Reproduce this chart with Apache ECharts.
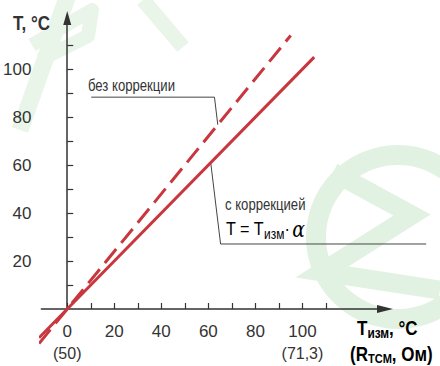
<!DOCTYPE html>
<html>
<head>
<meta charset="utf-8">
<script src="https://cdn.jsdelivr.net/npm/echarts@6/dist/echarts.min.js"></script>
<style>
  html, body { margin: 0; padding: 0; background: #fff; }
  #chart { width: 440px; height: 366px; }
</style>
</head>
<body>
<div id="chart"></div>
<script>
// axis ticks and labels
const xTicks = [0, 10, 20, 30, 40, 50, 60, 70, 80, 90, 100, 110]
const xLabels = [0, 20, 40, 60, 80, 100]
const xSubValues = [0, 100]
const xSubLabels = ['(50)', '(71,3)']
const yTicks = [10, 20, 30, 40, 50, 60, 70, 80, 90, 100, 110]
const yLabels = [20, 40, 60, 80, 100]

// lines: [T изм, T]
const withoutCorrection = [[-12, -14.4], [95, 114]]
const withCorrection = [[-12, -12], [105, 105]]

// callout leaders (data coords)
const leaderWithout = [[10.2, 88.3], [62.6, 88.3], [64, 76.8]]
const leaderWith = [[61, 61], [65.2, 27.1], [152.6, 27.1]]

const FONT = '"Liberation Sans", Arial, sans-serif'
const RED = '#c8363e'
const INK = '#333'
const WM = '#e2f2e2'

const chart = echarts.init(document.getElementById('chart'), null, { renderer: 'svg' })

// narrow text: a condensed look is made with scaleX
function label(x, y, text, size, bold, sx) {
  return {
    type: 'text', x: x, y: y, scaleX: sx || 0.82,
    style: { text: text, font: (bold ? 'bold ' : '') + size + 'px ' + FONT, fill: INK, align: 'left', verticalAlign: 'middle' }
  }
}

function wm(points, width) {
  return { type: 'polyline', z: -10, shape: { points: points }, style: { stroke: '#e9f5e9', lineWidth: width, fill: null, lineJoin: 'round' } }
}

const option = {
  animation: false,
  textStyle: { fontFamily: FONT },
  grid: { left: 36.5, right: 55, top: 18, bottom: 57 },
  xAxis: {
    type: 'value',
    min: -11,
    max: 135.1,
    splitLine: { show: false },
    axisLine: {
      onZero: true,
      lineStyle: { color: INK, width: 1.5 },
      symbol: ['none', 'triangle'],
      symbolSize: [8, 16]
    },
    axisTick: { customValues: xTicks, inside: true, length: 6, lineStyle: { color: INK, width: 1.2 } },
    axisLabel: {
      customValues: xLabels,
      margin: 11,
      color: INK,
      fontSize: 17,
      fontFamily: FONT,
      lineHeight: 22,
      formatter: v => {
        const i = xSubValues.indexOf(v)
        return i >= 0 ? v + '\n{sub|' + xSubLabels[i] + '}' : String(v)
      },
      rich: { sub: { fontSize: 16, fontFamily: FONT, color: INK, lineHeight: 22 } }
    }
  },
  yAxis: {
    type: 'value',
    min: 0,
    max: 121.3,
    splitLine: { show: false },
    axisLine: {
      onZero: true,
      lineStyle: { color: INK, width: 1.5 },
      symbol: ['none', 'triangle'],
      symbolSize: [8, 14]
    },
    axisTick: { customValues: yTicks, inside: true, length: 6, lineStyle: { color: INK, width: 1.2 } },
    axisLabel: { customValues: yLabels, margin: 10, color: INK, fontSize: 17, fontFamily: FONT }
  },
  series: [
    {
      name: 'без коррекции',
      type: 'line',
      clip: false,
      symbol: 'none',
      data: withoutCorrection,
      lineStyle: { color: RED, width: 3, type: [18, 8] }
    },
    {
      name: 'с коррекцией',
      type: 'line',
      clip: false,
      symbol: 'none',
      data: withCorrection,
      lineStyle: { color: RED, width: 3 }
    }
  ]
}

chart.setOption(option)

// leaders go past the grid, so they are drawn as graphics placed through the axes
const toPx = pts => pts.map(p => chart.convertToPixel({ gridIndex: 0 }, p))

chart.setOption({
  graphic: [
    // faint logo watermark
    { type: 'ring', z: -10, shape: { cx: 398, cy: 237, r: 92, r0: 72 }, style: { fill: WM } },
    { type: 'polyline', z: -10, shape: { points: [[333, 172], [412, 215], [322, 272], [440, 290]] },
      style: { stroke: WM, lineWidth: 19, fill: null, lineJoin: 'miter' } },
    wm([[68, -5], [20, 130]], 17),
    wm([[32, 45], [92, 10], [88, 36], [40, 60]], 14),
    wm([[143, 0], [183, 47]], 15),
    { type: 'polyline', shape: { points: toPx(leaderWithout) }, style: { stroke: '#444', lineWidth: 1, fill: null } },
    { type: 'polyline', shape: { points: toPx(leaderWith) }, style: { stroke: '#444', lineWidth: 1, fill: null } },
    label(13, 23, 'T, °C', 20, true, 0.85),
    label(88, 86, 'без коррекции', 16, false),
    label(225, 205, 'с коррекцией', 16, false),
    {
      type: 'text', x: 226, y: 229, scaleX: 0.85,
      style: {
        text: '{m|T = T}{s|изм}{m|·}{a|α}',
        align: 'left', verticalAlign: 'middle',
        rich: {
          m: { fontSize: 19, fontFamily: FONT, color: INK },
          s: { fontSize: 14, fontFamily: FONT, color: INK, padding: [11, 0, 0, 0] },
          a: { fontSize: 22, fontFamily: 'DejaVu Serif', fontStyle: 'italic', color: INK, padding: [0, 0, 0, 3] }
        }
      }
    },
    {
      type: 'text', x: 357, y: 328, scaleX: 0.85,
      style: {
        text: '{m|T}{s|изм}{m|, °C}',
        align: 'left', verticalAlign: 'middle',
        rich: {
          m: { fontSize: 20, fontWeight: 'bold', fontFamily: FONT, color: INK },
          s: { fontSize: 14, fontWeight: 'bold', fontFamily: FONT, color: INK, padding: [10, 0, 0, 0] }
        }
      }
    },
    {
      type: 'text', x: 350, y: 354, scaleX: 0.85,
      style: {
        text: '{m|(R}{s|TCM}{m|, Ом)}',
        align: 'left', verticalAlign: 'middle',
        rich: {
          m: { fontSize: 20, fontWeight: 'bold', fontFamily: FONT, color: INK },
          s: { fontSize: 13, fontWeight: 'bold', fontFamily: FONT, color: INK, padding: [10, 0, 0, 0] }
        }
      }
    }
  ]
})
</script>
</body>
</html>
